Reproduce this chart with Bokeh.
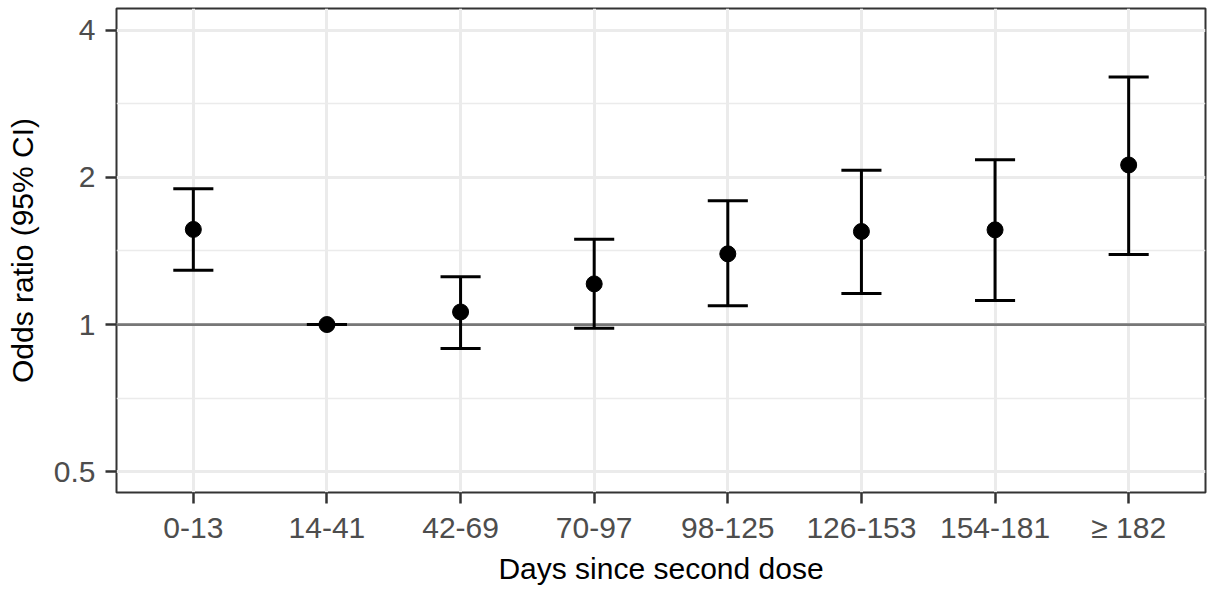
import numpy as np
from bokeh.plotting import figure
from bokeh.models import FactorRange, Range1d, FixedTicker, Span, ColumnDataSource, NumeralTickFormatter
from bokeh.transform import dodge
from bokeh.embed import file_html
from bokeh.resources import INLINE

categories = ["0-13", "14-41", "42-69", "70-97", "98-125", "126-153", "154-181", "\u2265 182"]
odds_ratio = [1.565, 1.0, 1.061, 1.211, 1.395, 1.550, 1.562, 2.12]
ci_lower = [1.292, 1.0, 0.893, 0.983, 1.092, 1.157, 1.120, 1.391]
ci_upper = [1.895, 1.0, 1.252, 1.495, 1.791, 2.067, 2.173, 3.21]
y_ticks = [0.5, 1, 2, 4]

src = ColumnDataSource(dict(cat=categories, or_=odds_ratio, lo=ci_lower, hi=ci_upper))

FONT = "Liberation Sans"

p = figure(
    x_range=FactorRange(factors=categories, range_padding=0.075, range_padding_units="absolute"),
    y_range=Range1d(0.4534, 4.43),
    y_axis_type="log",
    frame_width=1089, frame_height=484,
    min_border_left=116, min_border_right=2, min_border_top=8, min_border_bottom=97,
    output_backend="svg", toolbar_location=None,
    background_fill_color="white", border_fill_color="white",
)

# grid
p.xgrid.grid_line_color = "#EBEBEB"
p.xgrid.grid_line_width = 3
p.ygrid.ticker = FixedTicker(ticks=y_ticks,
                             minor_ticks=list(np.sqrt(np.array(y_ticks[:-1]) * np.array(y_ticks[1:]))))
p.ygrid.grid_line_color = "#EBEBEB"
p.ygrid.grid_line_width = 3
p.ygrid.minor_grid_line_color = "#EBEBEB"
p.ygrid.minor_grid_line_width = 1.5

# reference line at OR = 1
ref = Span(location=1, dimension="width", line_color="#777777", line_width=2.8, level="underlay")
p.add_layout(ref)

# error bars
p.segment(x0="cat", y0="lo", x1="cat", y1="hi", source=src, line_color="black", line_width=3)
p.segment(x0=dodge("cat", -0.15, range=p.x_range), y0="lo", x1=dodge("cat", 0.15, range=p.x_range), y1="lo",
          source=src, line_color="black", line_width=3)
p.segment(x0=dodge("cat", -0.15, range=p.x_range), y0="hi", x1=dodge("cat", 0.15, range=p.x_range), y1="hi",
          source=src, line_color="black", line_width=3)
p.scatter(x="cat", y="or_", source=src, size=16, fill_color="black", line_color="black")

# frame
p.outline_line_color = "#333333"
p.outline_line_width = 2
p.outline_line_alpha = 1

# axes
p.yaxis.ticker = FixedTicker(ticks=y_ticks, minor_ticks=[])
p.yaxis.formatter = NumeralTickFormatter(format="0.[0]")
for ax in (p.xaxis[0], p.yaxis[0]):
    ax.axis_line_color = None
    ax.major_tick_line_color = "#333333"
    ax.major_tick_line_width = 2.5
    ax.major_tick_out = 11
    ax.major_tick_in = 0
    ax.minor_tick_line_color = None
    ax.major_label_text_font = FONT
    ax.major_label_text_font_size = "30px"
    ax.major_label_text_color = "#4D4D4D"
    ax.axis_label_text_font = FONT
    ax.axis_label_text_font_size = "30px"
    ax.axis_label_text_font_style = "normal"
    ax.axis_label_text_color = "black"

p.xaxis.axis_label = "Days since second dose"
p.yaxis.axis_label = "Odds ratio (95% CI)"
p.xaxis.major_label_standoff = 7
p.yaxis.major_label_standoff = 10
p.xaxis.axis_label_standoff = 5
p.yaxis.axis_label_standoff = 12

open("out.html", "w").write(file_html(p, INLINE))
